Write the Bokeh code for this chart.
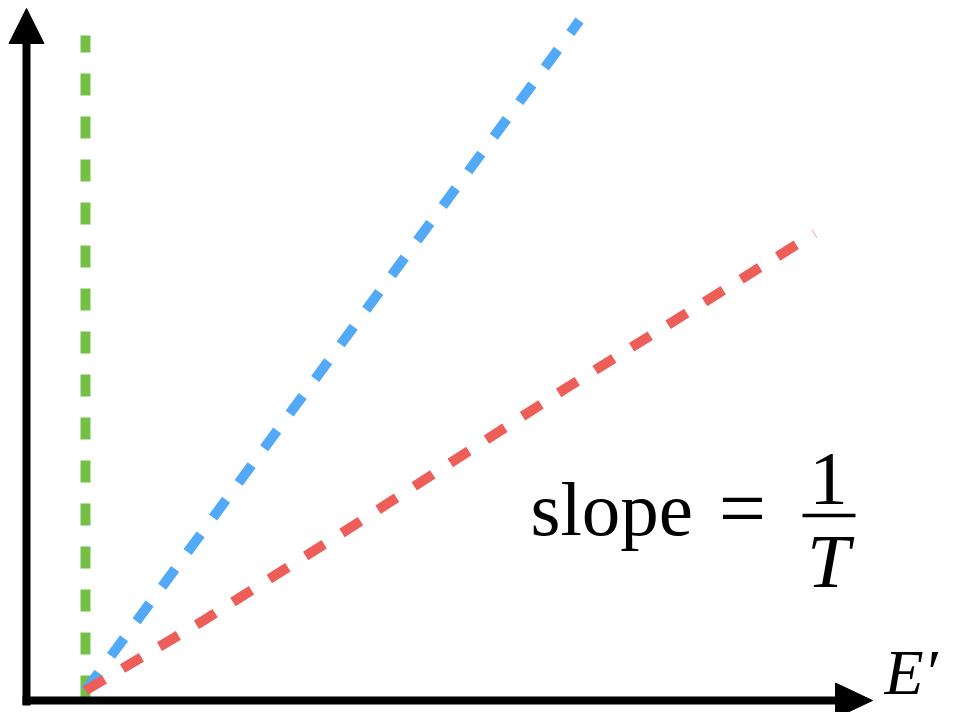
from bokeh.plotting import figure
from bokeh.models import Range1d
from bokeh.core.properties import value
from bokeh.embed import file_html
from bokeh.resources import INLINE

# ---- data (E' on x, vertical quantity on y) ----
green_x = [0.0, 0.0]
green_y = [-0.07, 6.55]

blue_x = [0.0, 4.94]
blue_y = [0.0, 6.70]

red_x = [0.0, 1.18, 2.62, 4.80, 7.29]
red_y = [0.0, 0.70, 1.61, 3.02, 4.57]

# axes (drawn by hand, as arrows)
yaxis_x = -0.59
yaxis_y0, yaxis_y1, yaxis_tip = -0.15, 6.47, 6.82
xaxis_y = -0.10
xaxis_x0, xaxis_x1, xaxis_tip = -0.63, 7.50, 7.87
head_half = 0.175

p = figure(width=947, height=712, output_backend="svg", toolbar_location=None,
           x_range=Range1d(-0.85, 8.62), y_range=Range1d(-0.22, 6.90),
           x_axis_type=None, y_axis_type=None, min_border=0)
p.outline_line_color = None
p.background_fill_color = "white"

dash = "22 21"
p.line(green_x, green_y, line_color="#74c044", line_width=10, line_dash=dash)
p.line(blue_x, blue_y, line_color="#52a9f8", line_width=10, line_dash=dash)
p.line(red_x, red_y, line_color="#ee5e58", line_width=10, line_dash=dash)

# axes
p.line([yaxis_x, yaxis_x], [yaxis_y0, yaxis_y1], line_color="black", line_width=8)
p.patch([yaxis_x - head_half, yaxis_x + head_half, yaxis_x],
        [yaxis_y1, yaxis_y1, yaxis_tip], color="black")
p.line([xaxis_x0, xaxis_x1], [xaxis_y, xaxis_y], line_color="black", line_width=8)
p.patch([xaxis_x1, xaxis_x1, xaxis_tip],
        [xaxis_y + head_half, xaxis_y - head_half, xaxis_y], color="black")

serif = value("Liberation Serif")

# slope = 1/T
p.text(x=[4.45], y=[1.82], text=["slope"], text_font=serif, text_font_size="77px",
       text_align="left", text_baseline="alphabetic", text_color="black")
p.text(x=[6.57], y=[1.82], text=["="], text_font=serif, text_font_size="84px",
       text_align="center", text_baseline="alphabetic", text_color="black")
p.text(x=[7.43], y=[2.12], text=["1"], text_font=serif, text_font_size="77px",
       text_align="center", text_baseline="alphabetic", text_color="black")
p.line([7.17, 7.70], [1.75, 1.75], line_color="black", line_width=3.5)
p.text(x=[7.43], y=[1.30], text=["T"], text_font=serif, text_font_size="77px",
       text_font_style="italic", text_align="center", text_baseline="alphabetic",
       text_color="black")

# axis label
p.text(x=[7.99], y=[0.18], text=["E′"], text_font=serif, text_font_size="64px",
       text_font_style="italic", text_align="left", text_baseline="alphabetic",
       text_color="black")

open("out.html", "w").write(file_html(p, INLINE))
